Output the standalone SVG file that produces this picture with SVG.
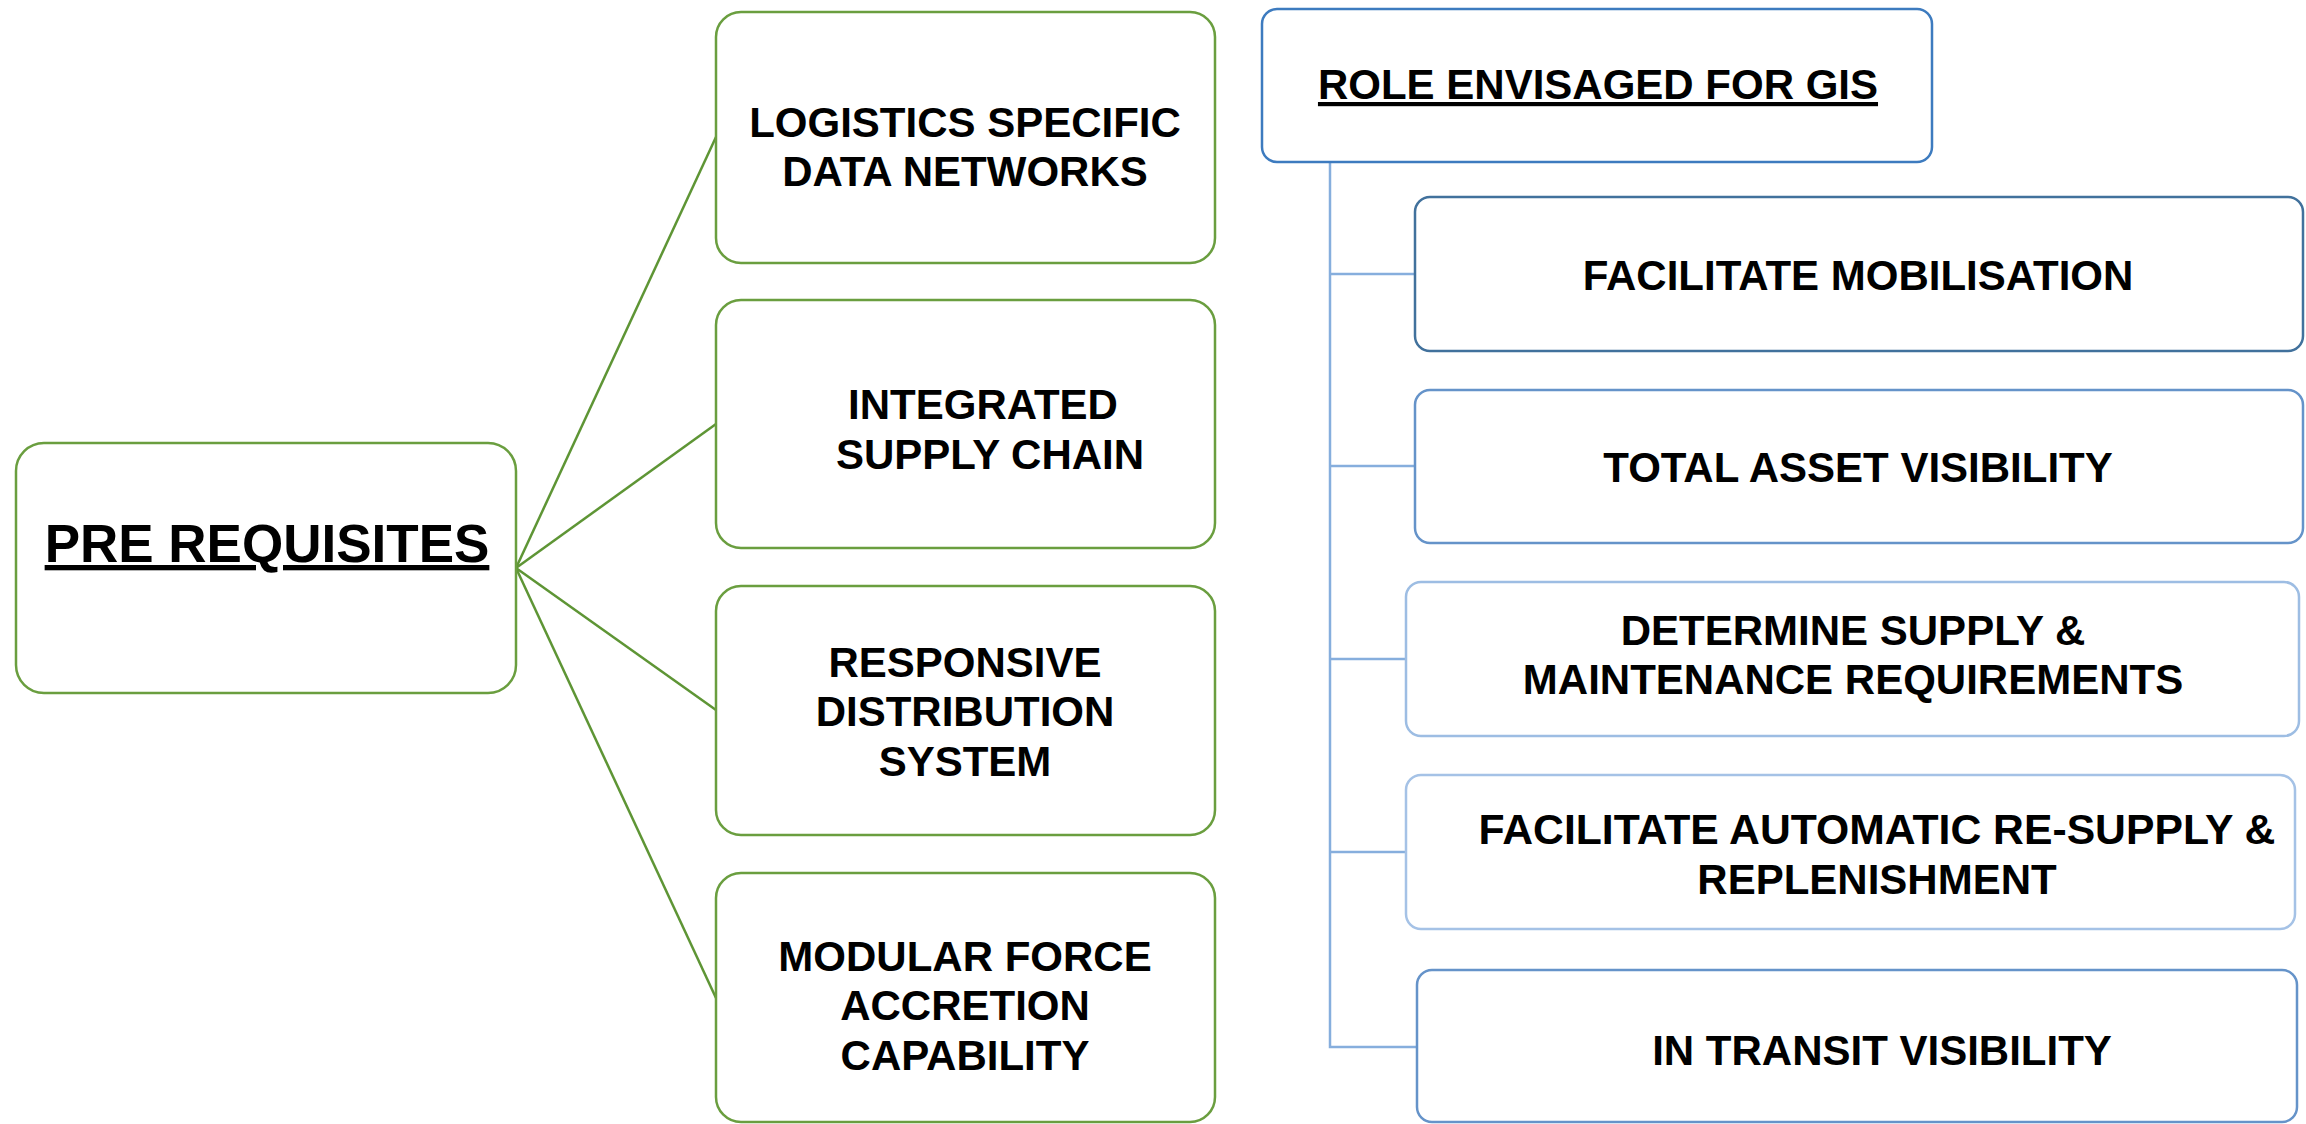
<svg xmlns="http://www.w3.org/2000/svg" width="2306" height="1124" viewBox="0 0 2306 1124">
<style>
.g{fill:#fff;stroke:#6A9E3F;stroke-width:2.5}
.b{fill:#fff;stroke-width:2.5}
.t{font-family:"Liberation Sans",Arial,sans-serif;font-weight:bold;font-size:42px;fill:#000;text-anchor:middle}
.gl{stroke:#5E9535;stroke-width:2.5;fill:none}
.bl{stroke:#86AEDD;stroke-width:2.5;fill:none}
</style>
<rect width="2306" height="1124" fill="#fff"/>
<g id="connectors">
<line class="gl" x1="516" y1="568" x2="716" y2="137"/>
<line class="gl" x1="516" y1="568" x2="716" y2="424"/>
<line class="gl" x1="516" y1="568" x2="716" y2="710"/>
<line class="gl" x1="516" y1="568" x2="716" y2="998"/>
<polyline class="bl" points="1330,162 1330,1047 1417,1047"/>
<line class="bl" x1="1330" y1="274" x2="1415" y2="274"/>
<line class="bl" x1="1330" y1="466" x2="1415" y2="466"/>
<line class="bl" x1="1330" y1="659" x2="1406" y2="659"/>
<line class="bl" x1="1330" y1="852" x2="1406" y2="852"/>
</g>
<g id="prerequisites">
<rect class="g" x="16" y="443" width="500" height="250" rx="28"/>
<text class="t" x="267" y="562" style="font-size:53px" text-decoration="underline">PRE REQUISITES</text>
</g>
<g id="logistics">
<rect class="g" x="716" y="12" width="499" height="251" rx="25"/>
<text class="t" x="965" y="137">LOGISTICS SPECIFIC</text>
<text class="t" x="965" y="186">DATA NETWORKS</text>
</g>
<g id="integrated">
<rect class="g" x="716" y="300" width="499" height="248" rx="25"/>
<text class="t" x="983" y="419">INTEGRATED</text>
<text class="t" x="990" y="469">SUPPLY CHAIN</text>
</g>
<g id="responsive">
<rect class="g" x="716" y="586" width="499" height="249" rx="25"/>
<text class="t" x="965" y="677">RESPONSIVE</text>
<text class="t" x="965" y="726">DISTRIBUTION</text>
<text class="t" x="965" y="776">SYSTEM</text>
</g>
<g id="modular">
<rect class="g" x="716" y="873" width="499" height="249" rx="25"/>
<text class="t" x="965" y="971">MODULAR FORCE</text>
<text class="t" x="965" y="1020">ACCRETION</text>
<text class="t" x="965" y="1070">CAPABILITY</text>
</g>
<g id="role">
<rect class="b" x="1262" y="9" width="670" height="153" rx="15" stroke="#3D7BBF"/>
<text class="t" x="1598" y="99" text-decoration="underline">ROLE ENVISAGED FOR GIS</text>
</g>
<g id="mobilisation">
<rect class="b" x="1415" y="197" width="888" height="154" rx="15" stroke="#41719C"/>
<text class="t" x="1858" y="290">FACILITATE MOBILISATION</text>
</g>
<g id="asset">
<rect class="b" x="1415" y="390" width="888" height="153" rx="15" stroke="#6593C9"/>
<text class="t" x="1858" y="482">TOTAL ASSET VISIBILITY</text>
</g>
<g id="determine">
<rect class="b" x="1406" y="582" width="893" height="154" rx="15" stroke="#9DBDE3"/>
<text class="t" x="1853" y="645">DETERMINE SUPPLY &amp;</text>
<text class="t" x="1853" y="694">MAINTENANCE REQUIREMENTS</text>
</g>
<g id="resupply">
<rect class="b" x="1406" y="775" width="889" height="154" rx="15" stroke="#A5C2E6"/>
<text class="t" x="1877" y="844" style="font-size:42.7px">FACILITATE AUTOMATIC RE-SUPPLY &amp;</text>
<text class="t" x="1877" y="894">REPLENISHMENT</text>
</g>
<g id="transit">
<rect class="b" x="1417" y="970" width="880" height="152" rx="15" stroke="#6593C9"/>
<text class="t" x="1882" y="1065">IN TRANSIT VISIBILITY</text>
</g>
</svg>
